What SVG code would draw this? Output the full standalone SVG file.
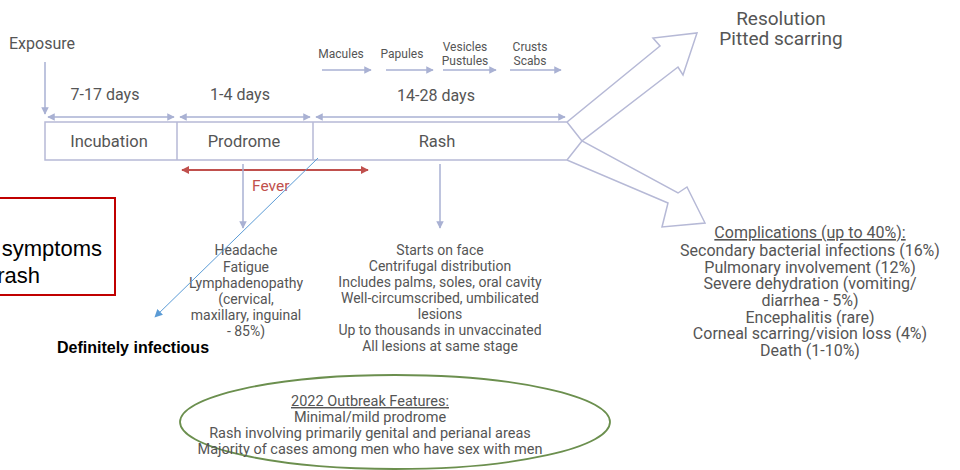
<svg xmlns="http://www.w3.org/2000/svg" width="960" height="470" viewBox="0 0 960 470">
<style>
.t{font-family:Roboto,"Liberation Sans",sans-serif;fill:#555;font-size:14px;text-anchor:middle}
.s{font-size:12px}
.m{font-size:16.5px}
.d{font-size:16px}
.l{font-size:19px}
.c{font-size:16px}
.e{font-size:14.5px}
.tl{stroke:#a9b1d3;stroke-width:1.5;fill:none}
.sh{stroke:#b6b9d6;stroke-width:1.5;fill:#fff}
.a{font-family:"Liberation Sans",Arial,sans-serif;fill:#000}
</style>
<defs>
<marker id="ah" viewBox="0 0 10 10" refX="9" refY="5" markerWidth="5" markerHeight="5" orient="auto-start-reverse"><path d="M0,0 L10,5 L0,10 z" fill="#a9b1d3"/></marker>
<marker id="rh" viewBox="0 0 10 10" refX="9" refY="5" markerWidth="4" markerHeight="4" orient="auto-start-reverse"><path d="M0,0 L10,5 L0,10 z" fill="#c0504d"/></marker>
<marker id="bh" viewBox="0 0 10 10" refX="9" refY="5" markerWidth="8" markerHeight="8" orient="auto"><path d="M0,0 L10,5 L0,10 z" fill="#5b9bd5"/></marker>
</defs>
<rect width="960" height="470" fill="#fff"/>

<g id="timeline">
<path class="sh" d="M45,122 H567 L660,46 L653,38 L697,33 L683,75 L678,67 L582,141 L678,193 L687,187 L705,223 L662,227 L668,203 L567,160 H45 Z"/>
<path class="sh" fill="none" d="M567,122 L582,141 L567,160 M177,122 V160 M313,122 V160"/>
</g>
<g id="incubation"><text class="t m" x="109" y="147">Incubation</text></g>
<g id="prodrome"><text class="t m" x="244" y="147">Prodrome</text></g>
<g id="rash"><text class="t m" x="437" y="147">Rash</text></g>

<g id="exposure"><text class="t d" x="9" y="49" style="text-anchor:start">Exposure</text></g>
<g id="durations">
<text class="t d" x="105" y="100">7-17 days</text>
<text class="t d" x="240" y="100">1-4 days</text>
<text class="t d" x="436" y="101">14-28 days</text>
</g>
<g id="stages">
<text class="t s" x="341" y="58">Macules</text>
<text class="t s" x="402" y="58">Papules</text>
<text class="t s" x="465" y="51">Vesicles</text>
<text class="t s" x="465" y="65">Pustules</text>
<text class="t s" x="530" y="51">Crusts</text>
<text class="t s" x="530" y="65">Scabs</text>
</g>
<g id="resolution">
<text class="t l" x="781" y="25">Resolution</text>
<text class="t l" x="781" y="45">Pitted scarring</text>
</g>
<g id="fever"><text x="252" y="191" style="font-family:Roboto,'Liberation Sans',sans-serif;font-size:15.5px;fill:#c0504d">Fever</text></g>
<g id="prodrome-symptoms">
<text class="t" x="246" y="255">Headache</text>
<text class="t" x="246" y="272">Fatigue</text>
<text class="t" x="246" y="288">Lymphadenopathy</text>
<text class="t" x="246" y="304">(cervical,</text>
<text class="t" x="246" y="320">maxillary, inguinal</text>
<text class="t" x="246" y="336">- 85%)</text>
</g>
<g id="rash-features">
<text class="t" x="440" y="255">Starts on face</text>
<text class="t" x="440" y="271">Centrifugal distribution</text>
<text class="t" x="440" y="287">Includes palms, soles, oral cavity</text>
<text class="t" x="440" y="303">Well-circumscribed, umbilicated</text>
<text class="t" x="440" y="319">lesions</text>
<text class="t" x="440" y="335">Up to thousands in unvaccinated</text>
<text class="t" x="440" y="351">All lesions at same stage</text>
</g>
<g id="complications">
<text class="t c" x="810" y="238" text-decoration="underline">Complications (up to 40%):</text>
<text class="t c" x="810" y="256">Secondary bacterial infections (16%)</text>
<text class="t c" x="810" y="273">Pulmonary involvement (12%)</text>
<text class="t c" x="810" y="289">Severe dehydration (vomiting/</text>
<text class="t c" x="810" y="306">diarrhea - 5%)</text>
<text class="t c" x="810" y="323">Encephalitis (rare)</text>
<text class="t c" x="810" y="339">Corneal scarring/vision loss (4%)</text>
<text class="t c" x="810" y="356">Death (1-10%)</text>
</g>
<g id="outbreak">
<ellipse cx="395" cy="422" rx="215" ry="47" fill="#fff" stroke="#6b8f4e" stroke-width="1.8"/>
<text class="t e" x="370" y="406" text-decoration="underline">2022 Outbreak Features:</text>
<text class="t e" x="370" y="422">Minimal/mild prodrome</text>
<text class="t e" x="370" y="438">Rash involving primarily genital and perianal areas</text>
<text class="t e" x="370" y="454">Majority of cases among men who have sex with men</text>
</g>
<g id="note">
<rect x="-10" y="198" width="125" height="97" fill="#fff" stroke="#c00000" stroke-width="2"/>
<text class="a" x="102" y="256" style="font-size:22px;text-anchor:end">symptoms</text>
<text class="a" x="40" y="283" style="font-size:22px;text-anchor:end">rash</text>
</g>
<g id="infectious"><text class="a" x="57" y="353" style="font-size:16px;font-weight:bold">Definitely infectious</text></g>

<g id="connectors">
<line class="tl" x1="45" y1="62" x2="45" y2="114" marker-end="url(#ah)"/>
<line class="tl" x1="48" y1="117" x2="174" y2="117" marker-start="url(#ah)" marker-end="url(#ah)"/>
<line class="tl" x1="180" y1="117" x2="310" y2="117" marker-start="url(#ah)" marker-end="url(#ah)"/>
<line class="tl" x1="316" y1="117" x2="565" y2="117" marker-start="url(#ah)" marker-end="url(#ah)"/>
<line class="tl" x1="322" y1="70" x2="371" y2="70" marker-end="url(#ah)"/>
<line class="tl" x1="386" y1="70" x2="433" y2="70" marker-end="url(#ah)"/>
<line class="tl" x1="443" y1="70" x2="496" y2="70" marker-end="url(#ah)"/>
<line class="tl" x1="510" y1="70" x2="561" y2="70" marker-end="url(#ah)"/>
<line stroke="#c0504d" stroke-width="2" x1="182" y1="170" x2="368" y2="170" marker-start="url(#rh)" marker-end="url(#rh)"/>
<line class="tl" x1="243" y1="164" x2="243" y2="228" marker-end="url(#ah)"/>
<line class="tl" x1="440" y1="164" x2="440" y2="228" marker-end="url(#ah)"/>
<line stroke="#5b9bd5" stroke-width="1" x1="318" y1="158" x2="155" y2="317" marker-end="url(#bh)"/>
</g>
</svg>
